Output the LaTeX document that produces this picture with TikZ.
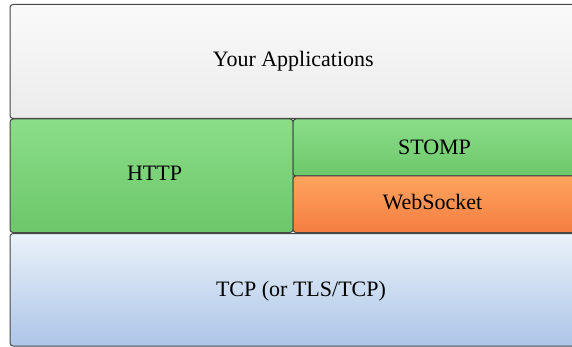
\documentclass[tikz,border=0pt]{standalone}
\usepackage{fontspec}
\setmainfont{Liberation Serif}
\begin{document}
\begin{tikzpicture}[x=1pt,y=-1pt,
  layer/.style={draw=black!72, line width=1pt, rounded corners=3pt, shading angle=0},
  lbl/.style={anchor=base, inner sep=0pt, font=\fontsize{22}{26}\selectfont, text=black}]
\definecolor{appT}{HTML}{FAFAFA}\definecolor{appB}{HTML}{EBEBEB}
\definecolor{grT}{HTML}{8ADE88}\definecolor{grB}{HTML}{6DC66A}
\definecolor{orT}{HTML}{FEA45E}\definecolor{orB}{HTML}{F47D41}
\definecolor{blT}{HTML}{EAF2F9}\definecolor{blB}{HTML}{ADC5E8}
\useasboundingbox (0,0) rectangle (572,347);
\clip (0,0) rectangle (572,347);
% boxes
\path[layer, top color=appT, bottom color=appB] (10,4.5) rectangle (577,118.5);
\path[layer, top color=grT, bottom color=grB] (10,119) rectangle (293,232.5);
\path[layer, top color=grT, bottom color=grB] (293,119) rectangle (577,176);
\path[layer, top color=orT, bottom color=orB] (293,176) rectangle (577,232.5);
\path[layer, top color=blT, bottom color=blB] (10,233.5) rectangle (592,346);
% labels
\node[lbl] (app) at (293.3,67) {Your Applications};
\node[lbl] (http) at (154.5,181) {HTTP};
\node[lbl] (stomp) at (434.5,155) {STOMP};
\node[lbl] (ws) at (432.5,210) {WebSocket};
\node[lbl] (tcp) at (301,296) {TCP (or TLS/TCP)};
\end{tikzpicture}
\end{document}
